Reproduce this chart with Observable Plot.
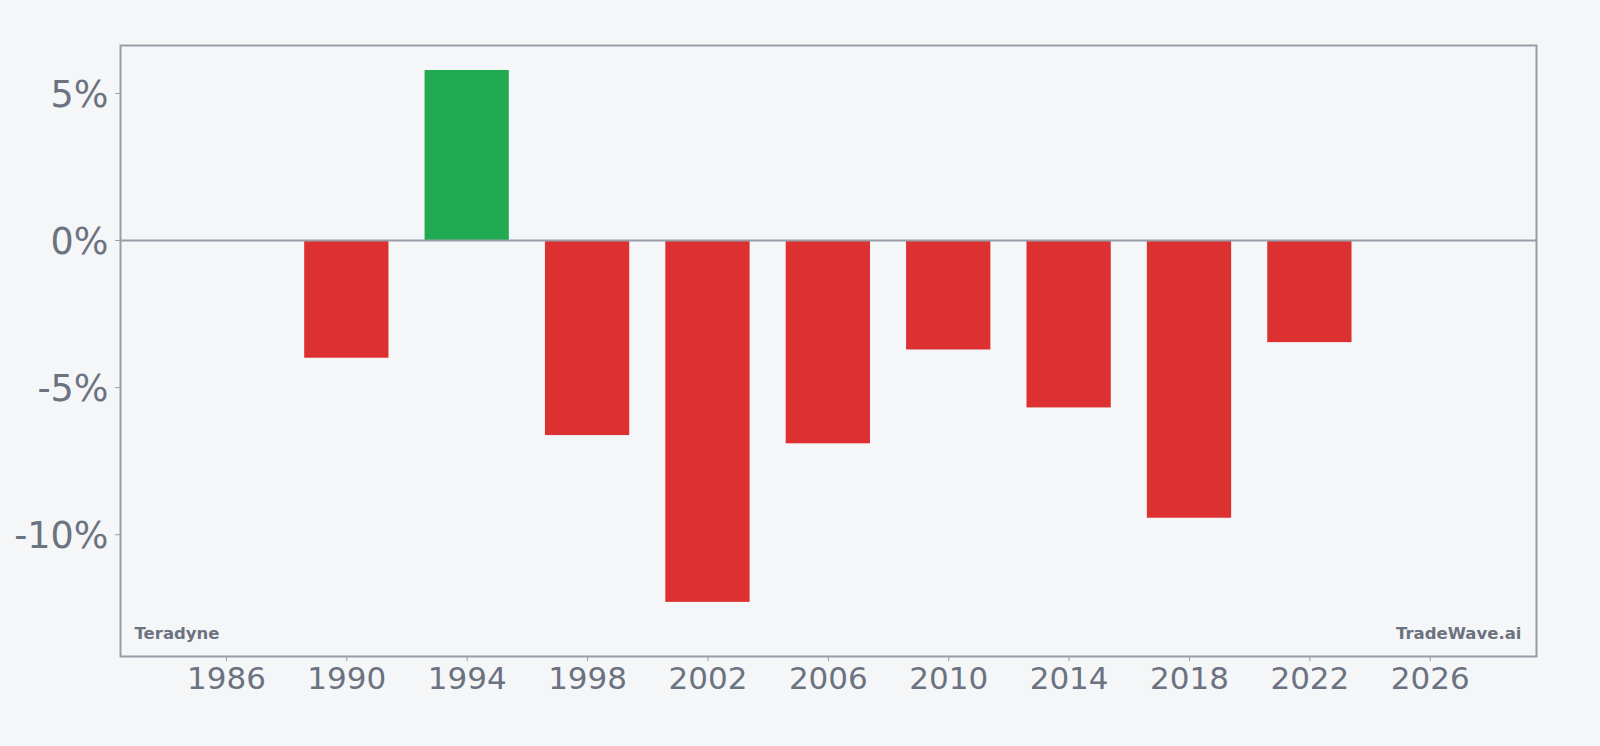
<!DOCTYPE html>
<html>
<head>
<meta charset="utf-8">
<script src="https://cdn.jsdelivr.net/npm/d3@7"></script>
<script src="https://cdn.jsdelivr.net/npm/@observablehq/plot@0.6"></script>
<style>
  html, body { margin: 0; padding: 0; background: #f5f6f8; }
  #chart svg { display: block; }
</style>
</head>
<body>
<div id="chart"></div>
<script>
const years = [1990, 1994, 1998, 2002, 2006, 2010, 2014, 2018, 2022];
const values = [-4.0, 5.78, -6.63, -12.3, -6.91, -3.72, -5.69, -9.44, -3.47];
const xTicks = [1986, 1990, 1994, 1998, 2002, 2006, 2010, 2014, 2018, 2022, 2026];
const yTicks = [5, 0, -5, -10];
const company = "Teradyne";
const brand = "TradeWave.ai";

const barWidth = 2.8;
const data = years.map((y, i) => ({year: y, value: values[i]}));

const textColor = "#6b7280";
const frameColor = "#9a9da8";

const chart = Plot.plot({
  width: 1600,
  height: 746,
  marginLeft: 120,
  marginRight: 64,
  marginTop: 45,
  marginBottom: 90,
  style: {background: "#f5f6f8", fontFamily: "DejaVu Sans", color: textColor},
  x: {domain: [1982.48, 2029.53]},
  y: {domain: [-14.14, 6.63]},
  marks: [
    Plot.rectY(data, {
      x1: d => d.year - barWidth / 2,
      x2: d => d.year + barWidth / 2,
      y1: 0,
      y2: "value",
      fill: d => d.value >= 0 ? "#22aa53" : "#dc3031",
      inset: 0
    }),
    Plot.ruleY([0], {stroke: frameColor, strokeWidth: 2}),
    Plot.frame({stroke: frameColor, strokeWidth: 2}),
    Plot.axisX({ticks: xTicks, tickFormat: d => String(d), tickSize: 5, tickPadding: 5, fontSize: 31, stroke: frameColor, fill: textColor, label: null}),
    Plot.axisY({ticks: yTicks, tickSize: 5, stroke: frameColor, text: null, label: null}),
    Plot.axisY({ticks: yTicks, tickFormat: d => `${d}%`, tickSize: 0, tickPadding: 12, fontSize: 36.5, fill: textColor, label: null, dy: 1.5}),
    Plot.text([company], {frameAnchor: "bottom-left", dx: 14, dy: -18, fontSize: 16.5, fontWeight: "bold", fill: textColor, text: d => d, lineAnchor: "bottom"}),
    Plot.text([brand], {frameAnchor: "bottom-right", dx: -15, dy: -18, fontSize: 16.5, fontWeight: "bold", fill: textColor, text: d => d, lineAnchor: "bottom"})
  ]
});
document.getElementById("chart").appendChild(chart);
</script>
</body>
</html>
